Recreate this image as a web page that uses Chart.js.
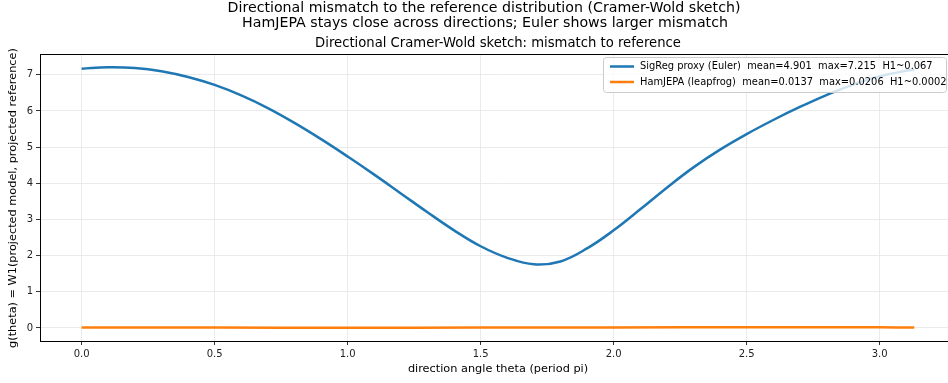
<!DOCTYPE html>
<html>
<head>
<meta charset="utf-8">
<script src="https://cdn.jsdelivr.net/npm/chart.js@4"></script>
<style>
  html, body { margin: 0; padding: 0; background: #fff; }
  #wrap { width: 948px; height: 383px; overflow: hidden; position: relative; }
  #wrap canvas { position: absolute; left: 0; top: 0; }
</style>
</head>
<body>
<div id="wrap"><canvas id="chart" width="966" height="383"></canvas></div>
<script>
// Directional angle samples (period pi)
const thetaEuler = [0.0, 0.1, 0.2, 0.3, 0.4, 0.5, 0.6, 0.7, 0.8, 0.9, 1.0, 1.1, 1.2, 1.3, 1.4, 1.5,
                    1.6, 1.7, 1.8, 1.9, 2.0, 2.1, 2.2, 2.3, 2.4, 2.5, 2.6, 2.7, 2.8, 2.9, 3.0, 3.1, 3.13];
const eulerMismatch = [7.17, 7.21, 7.19, 7.10, 6.94, 6.72, 6.43, 6.08, 5.67, 5.22, 4.74, 4.24, 3.72, 3.20, 2.70, 2.26,
                       1.94, 1.76, 1.84, 2.20, 2.70, 3.28, 3.88, 4.44, 4.93, 5.36, 5.75, 6.11, 6.44, 6.73, 6.96, 7.11, 7.14];

const thetaLeap = [0.0, 0.5, 1.0, 1.5, 2.0, 2.5, 3.0, 3.13];
const leapMismatch = [0.016, 0.012, 0.008, 0.011, 0.015, 0.019, 0.017, 0.016];

const xTicks = [0.0, 0.5, 1.0, 1.5, 2.0, 2.5, 3.0];
const yTicks = [0, 1, 2, 3, 4, 5, 6, 7];

const seriesLabels = [
    'SigReg proxy (Euler)  mean=4.901  max=7.215  H1~0.067',
    'HamJEPA (leapfrog)  mean=0.0137  max=0.0206  H1~0.0002'
];
const seriesColors = ['#1f77b4', '#ff7f0e'];

const FONT = '"DejaVu Sans", sans-serif';

// Titles, frame, axis labels and legend drawn over the chart
const overlay = {
    id: 'overlay',
    afterDraw(chart) {
        const ctx = chart.ctx;
        const a = chart.chartArea;
        ctx.save();

        // frame
        ctx.strokeStyle = '#000';
        ctx.lineWidth = 1;
        ctx.strokeRect(a.left + 0.5, a.top + 0.5, a.right - a.left - 1, a.bottom - a.top);

        // figure titles
        ctx.fillStyle = '#000';
        ctx.textAlign = 'center';
        ctx.textBaseline = 'middle';
        ctx.font = '14.2px ' + FONT;
        ctx.fillText('Directional mismatch to the reference distribution (Cramer-Wold sketch)', 484, 8);
        ctx.fillText('HamJEPA stays close across directions; Euler shows larger mismatch', 485, 23);
        ctx.font = '13.2px ' + FONT;
        ctx.fillText('Directional Cramer-Wold sketch: mismatch to reference', (a.left + a.right) / 2, 44);

        // axis labels
        ctx.font = '11.3px ' + FONT;
        ctx.fillText('direction angle theta (period pi)', (a.left + a.right) / 2, 369);
        ctx.save();
        ctx.translate(13, 198);
        ctx.rotate(-Math.PI / 2);
        ctx.fillText('g(theta) = W1(projected model, projected reference)', 0, 0);
        ctx.restore();

        // legend
        const lx = 603, ly = 57, lw = 343, lh = 35;
        ctx.fillStyle = 'rgba(255,255,255,0.8)';
        ctx.strokeStyle = '#cccccc';
        ctx.lineWidth = 1;
        ctx.beginPath();
        ctx.roundRect(lx + 0.5, ly + 0.5, lw, lh, 3);
        ctx.fill();
        ctx.stroke();
        ctx.font = '9.9px ' + FONT;
        ctx.textAlign = 'left';
        seriesLabels.forEach((txt, i) => {
            const y = ly + 9.5 + i * 15.5;
            ctx.strokeStyle = seriesColors[i];
            ctx.lineWidth = 2.5;
            ctx.beginPath();
            ctx.moveTo(lx + 7, y);
            ctx.lineTo(lx + 31, y);
            ctx.stroke();
            ctx.fillStyle = '#000';
            ctx.fillText(txt, lx + 37, y);
        });
        ctx.restore();
    }
};

new Chart(document.getElementById('chart'), {
    type: 'line',
    data: {
        datasets: [
            {
                label: seriesLabels[0],
                data: thetaEuler.map((t, i) => ({ x: t, y: eulerMismatch[i] })),
                borderColor: seriesColors[0],
                borderWidth: 2.5,
                pointRadius: 0,
                tension: 0.4,
                fill: false
            },
            {
                label: seriesLabels[1],
                data: thetaLeap.map((t, i) => ({ x: t, y: leapMismatch[i] })),
                borderColor: seriesColors[1],
                borderWidth: 2.5,
                pointRadius: 0,
                tension: 0.4,
                fill: false
            }
        ]
    },
    options: {
        responsive: false,
        animation: false,
        events: [],
        layout: { padding: { left: 0, top: 54, right: 10, bottom: 0 } },
        plugins: { legend: { display: false }, title: { display: false }, tooltip: { enabled: false } },
        scales: {
            x: {
                type: 'linear',
                min: -0.1566,
                max: 3.287,
                afterBuildTicks: s => { s.ticks = xTicks.map(v => ({ value: v })); },
                afterFit: s => { s.height = 42; },
                grid: { color: '#e6e6e6', lineWidth: 0.8, tickColor: '#000', tickLength: 4, drawTicks: true },
                border: { display: true, color: '#000', width: 1 },
                ticks: { color: '#222', font: { family: FONT, size: 10 }, padding: 3, callback: v => v.toFixed(1) }
            },
            y: {
                type: 'linear',
                min: -0.36,
                max: 7.575,
                afterBuildTicks: s => { s.ticks = yTicks.map(v => ({ value: v })); },
                afterFit: s => { s.width = 40; },
                grid: { color: '#e6e6e6', lineWidth: 0.8, tickColor: '#000', tickLength: 4, drawTicks: true },
                border: { display: true, color: '#000', width: 1 },
                ticks: { color: '#222', font: { family: FONT, size: 10 }, padding: 3, callback: v => String(v) }
            }
        }
    },
    plugins: [overlay]
});
</script>
</body>
</html>
